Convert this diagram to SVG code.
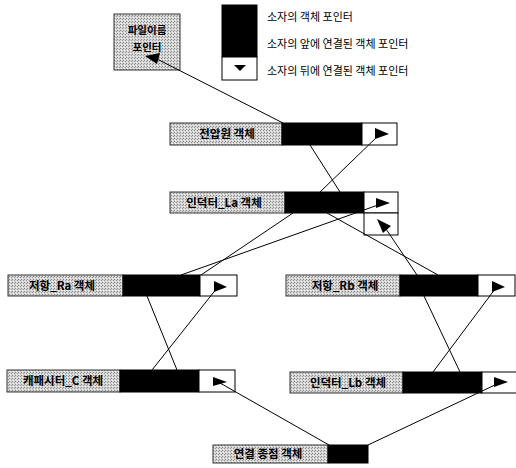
<svg xmlns="http://www.w3.org/2000/svg" width="516" height="468" viewBox="0 0 516 468">
<defs>
<pattern id="dither" width="3" height="3" patternUnits="userSpaceOnUse">
<rect width="3" height="3" fill="#d4d4d4"/>
<rect x="0" y="0" width="1" height="1" fill="#8a8a8a"/>
<rect x="2" y="1" width="1" height="1" fill="#9a9a9a"/>
<rect x="1" y="2" width="1" height="1" fill="#f2f2f2"/>
</pattern>
</defs>
<style>
.gray{fill:url(#dither);stroke:#333;stroke-width:1}
.blk{fill:#000;stroke:#000;stroke-width:1}
.wht{fill:#fff;stroke:#000;stroke-width:1}
.lbl{font-family:"Noto Sans CJK KR","Noto Sans",sans-serif;font-size:11.5px;font-weight:bold;fill:#000}
.sml{font-family:"Noto Sans CJK KR","Noto Sans",sans-serif;font-size:10.5px;font-weight:bold;fill:#000}
.leg{font-family:"Noto Sans CJK KR","Noto Sans",sans-serif;font-size:11px;fill:#000}
.ln{stroke:#000;stroke-width:1;fill:none}
.ah{fill:#000}
</style>
<rect width="516" height="468" fill="#fff"/>

<g id="legend">
<rect x="222" y="5" width="35" height="52" class="blk"/>
<rect x="222" y="57" width="35" height="23" class="wht"/>
<polygon points="234,65 246,65 240,71" class="ah"/>
<text x="267" y="21" class="leg">소자의 객체 포인터</text>
<text x="267" y="48" class="leg">소자의 앞에 연결된 객체 포인터</text>
<text x="267" y="75" class="leg">소자의 뒤에 연결된 객체 포인터</text>
</g>

<g id="filename">
<rect x="114" y="14" width="66" height="56" class="gray"/>
<text x="147" y="34" text-anchor="middle" class="sml">파일이름</text>
<text x="147" y="51" text-anchor="middle" class="sml">포인터</text>
<polygon points="145,56 160,53 157,64" class="ah"/>
</g>

<g id="vsrc">
<rect x="170" y="123" width="112" height="22" class="gray"/>
<rect x="282" y="123" width="80" height="22" class="blk"/>
<rect x="362" y="123" width="35" height="22" class="wht"/>
<polygon points="375,128 389,134 375,139" class="ah"/>
<text x="227" y="138" text-anchor="middle" class="lbl">전압원 객체</text>
</g>

<g id="La">
<rect x="170" y="192" width="115" height="21" class="gray"/>
<rect x="285" y="192" width="79" height="21" class="blk"/>
<rect x="364" y="192" width="34" height="21" class="wht"/>
<rect x="364" y="213" width="34" height="22" class="wht"/>
<polygon points="376,198 390,203 376,208" class="ah"/>
<polygon points="377,219 391,226 383,233" class="ah"/>
<text x="224" y="207" text-anchor="middle" class="lbl">인덕터_La 객체</text>
</g>

<g id="Ra">
<rect x="8" y="275" width="115" height="21" class="gray"/>
<rect x="123" y="275" width="77" height="21" class="blk"/>
<rect x="200" y="275" width="37" height="21" class="wht"/>
<polygon points="214,281 227,287 214,292" class="ah"/>
<text x="62" y="290" text-anchor="middle" class="lbl">저항_Ra 객체</text>
</g>

<g id="Rb">
<rect x="286" y="275" width="114" height="21" class="gray"/>
<rect x="400" y="275" width="78" height="21" class="blk"/>
<rect x="478" y="275" width="37" height="21" class="wht"/>
<polygon points="492,281 505,287 492,292" class="ah"/>
<text x="345" y="290" text-anchor="middle" class="lbl">저항_Rb 객체</text>
</g>

<g id="C">
<rect x="7" y="370" width="113" height="22" class="gray"/>
<rect x="120" y="370" width="79" height="22" class="blk"/>
<rect x="199" y="370" width="36" height="22" class="wht"/>
<polygon points="213,377 227,382 213,386" class="ah"/>
<text x="63" y="385" text-anchor="middle" class="lbl">캐패시터_C 객체</text>
</g>

<g id="Lb">
<rect x="290" y="372" width="113" height="21" class="gray"/>
<rect x="403" y="372" width="79" height="21" class="blk"/>
<rect x="482" y="372" width="36" height="21" class="wht"/>
<polygon points="494,377 508,382 494,387" class="ah"/>
<text x="348" y="387" text-anchor="middle" class="lbl">인덕터_Lb 객체</text>
</g>

<g id="end">
<rect x="213" y="445" width="115" height="18" class="gray"/>
<rect x="328" y="445" width="40" height="18" class="blk"/>
<text x="268" y="458" text-anchor="middle" class="lbl">연결 종점 객체</text>
</g>

<g id="connectors" class="ln">
<line x1="157" y1="59" x2="283" y2="123"/>
<line x1="310" y1="145" x2="340" y2="192"/>
<line x1="320" y1="192" x2="380" y2="134"/>
<line x1="293" y1="213" x2="201" y2="275"/>
<line x1="378" y1="205" x2="181" y2="275"/>
<line x1="327" y1="213" x2="438" y2="275"/>
<line x1="386" y1="229" x2="417" y2="275"/>
<line x1="147" y1="296" x2="177" y2="370"/>
<line x1="217" y1="288" x2="152" y2="370"/>
<line x1="424" y1="296" x2="460" y2="372"/>
<line x1="495" y1="289" x2="433" y2="372"/>
<line x1="220" y1="383" x2="329" y2="445"/>
<line x1="368" y1="445" x2="497" y2="384"/>
</g>
</svg>
